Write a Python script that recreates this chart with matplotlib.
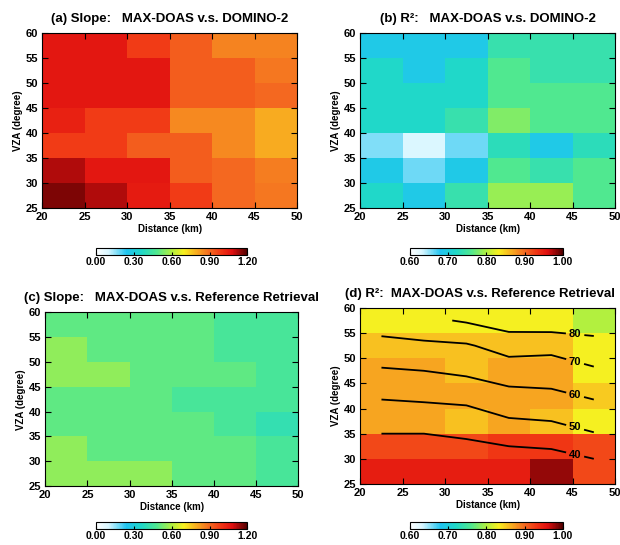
import matplotlib
matplotlib.use('Agg')
import matplotlib.pyplot as plt
import numpy as np
from matplotlib.colors import LinearSegmentedColormap

plt.rcParams['font.family'] = ['Liberation Sans', 'DejaVu Sans']
plt.rcParams['font.weight'] = 'bold'

# grid: distance bins (km) and VZA bins (degree)
dist_edges = [20, 25, 30, 35, 40, 45, 50]
vza_edges = [25, 30, 35, 40, 45, 50, 55, 60]

# rows go from VZA 25-30 (bottom) to 55-60 (top)
slope_domino = [
    [1.16, 1.12, 1.05, 0.98, 0.90, 0.88],
    [1.12, 1.06, 1.06, 0.92, 0.90, 0.87],
    [0.98, 0.98, 0.92, 0.92, 0.85, 0.80],
    [1.04, 0.98, 0.98, 0.85, 0.85, 0.80],
    [1.06, 1.06, 1.06, 0.92, 0.92, 0.90],
    [1.06, 1.06, 1.06, 0.92, 0.92, 0.88],
    [1.06, 1.06, 0.98, 0.92, 0.86, 0.86],
]
r2_domino = [
    [0.72, 0.69, 0.74, 0.79, 0.79, 0.76],
    [0.69, 0.66, 0.69, 0.76, 0.74, 0.76],
    [0.655, 0.63, 0.66, 0.73, 0.69, 0.73],
    [0.72, 0.72, 0.74, 0.78, 0.76, 0.76],
    [0.72, 0.72, 0.72, 0.76, 0.76, 0.76],
    [0.72, 0.69, 0.72, 0.76, 0.74, 0.74],
    [0.69, 0.69, 0.69, 0.74, 0.74, 0.74],
]
slope_ref = [
    [0.56, 0.56, 0.56, 0.50, 0.50, 0.46],
    [0.56, 0.50, 0.50, 0.50, 0.50, 0.46],
    [0.50, 0.50, 0.50, 0.50, 0.46, 0.41],
    [0.50, 0.50, 0.50, 0.46, 0.46, 0.46],
    [0.56, 0.56, 0.50, 0.50, 0.50, 0.46],
    [0.56, 0.50, 0.50, 0.50, 0.46, 0.46],
    [0.50, 0.50, 0.50, 0.50, 0.46, 0.46],
]
r2_ref = [
    [0.95, 0.95, 0.95, 0.95, 0.98, 0.92],
    [0.92, 0.92, 0.92, 0.93, 0.93, 0.92],
    [0.87, 0.87, 0.855, 0.87, 0.855, 0.83],
    [0.87, 0.87, 0.87, 0.87, 0.87, 0.85],
    [0.87, 0.87, 0.855, 0.87, 0.87, 0.83],
    [0.855, 0.855, 0.855, 0.855, 0.855, 0.83],
    [0.83, 0.83, 0.83, 0.83, 0.83, 0.80],
]
# number of collocations at bin centres, contoured on panel (d)
n_coll = [
    [30, 30, 30, 31, 32, 35],
    [36, 36, 38, 40, 41, 45],
    [44, 44, 45, 49, 50, 54],
    [51, 52, 53, 57, 58, 61],
    [59, 60, 62, 65, 65, 69],
    [67, 68, 69, 74, 73, 75],
    [75, 78, 81, 85, 86, 88],
]
n_levels = [40, 50, 60, 70, 80]

slope_ticks = [0.0, 0.3, 0.6, 0.9, 1.2]
r2_ticks = [0.6, 0.7, 0.8, 0.9, 1.0]

cmap = LinearSegmentedColormap.from_list('idl', [
    (0.00, '#ffffff'), (0.08, '#d8f6ff'), (0.20, '#20c4f0'), (0.30, '#20d8c8'),
    (0.40, '#50e890'), (0.50, '#b0f040'), (0.58, '#f8f020'), (0.66, '#f8b020'),
    (0.75, '#f46a20'), (0.83, '#f03414'), (0.90, '#e01010'), (1.00, '#500000')])

fig = plt.figure(figsize=(6.2, 5.45), dpi=100)

panels = [
    ('(a) Slope:   MAX-DOAS v.s. DOMINO-2', slope_domino, slope_ticks,
     [0.068, 0.618, 0.411, 0.321], [0.155, 0.532, 0.244, 0.013]),
    ('(b) R²:   MAX-DOAS v.s. DOMINO-2', r2_domino, r2_ticks,
     [0.581, 0.618, 0.411, 0.321], [0.661, 0.532, 0.247, 0.013]),
    ('(c) Slope:   MAX-DOAS v.s. Reference Retrieval', slope_ref, slope_ticks,
     [0.073, 0.108, 0.408, 0.319], [0.155, 0.029, 0.244, 0.013]),
    ('(d) R²:  MAX-DOAS v.s. Reference Retrieval', r2_ref, r2_ticks,
     [0.581, 0.112, 0.411, 0.323], [0.661, 0.029, 0.247, 0.013]),
]

for i, (title, z, ticks, pos, cpos) in enumerate(panels):
    ax = fig.add_axes(pos)
    pc = ax.pcolormesh(dist_edges, vza_edges, np.array(z), cmap=cmap,
                       vmin=ticks[0], vmax=ticks[-1])
    ax.set_xlim(20, 50)
    ax.set_ylim(25, 60)
    ax.set_xticks(np.arange(20, 51, 5))
    ax.set_yticks(np.arange(25, 61, 5))
    ax.tick_params(direction='in', top=True, right=True, length=4,
                   labelsize=8, pad=3)
    for lab in ax.get_xticklabels() + ax.get_yticklabels():
        lab.set_fontweight('bold')
    ax.set_xlabel('Distance (km)', fontsize=7, fontweight='bold', labelpad=1)
    ax.set_ylabel('VZA (degree)', fontsize=7, fontweight='bold', labelpad=2)
    if i == 3:
        ax.set_title(title, fontsize=9.5, fontweight='bold', pad=8, loc='right')
    else:
        ax.set_title(title, fontsize=9.5, fontweight='bold', pad=8)

    if i == 3:
        xc = 0.5 * (np.array(dist_edges[:-1]) + np.array(dist_edges[1:]))
        yc = 0.5 * (np.array(vza_edges[:-1]) + np.array(vza_edges[1:]))
        cs = ax.contour(xc, yc, np.array(n_coll), levels=n_levels,
                        colors='black', linewidths=1.3)
        # put each label near the right end of its line
        manual = []
        for seg in cs.allsegs:
            v = seg[0]
            order = np.argsort(v[:, 0])
            manual.append((45.3, np.interp(45.3, v[order, 0], v[order, 1])))
        lbls = ax.clabel(cs, fmt='%d', fontsize=8, inline=True, manual=manual,
                         inline_spacing=3)
        for t in lbls:
            t.set_rotation(0)
            t.set_fontweight('bold')

    cax = fig.add_axes(cpos)
    cb = fig.colorbar(pc, cax=cax, orientation='horizontal', ticks=ticks)
    cb.ax.set_xticklabels(['%.2f' % t for t in ticks])
    cb.ax.tick_params(direction='in', length=2, labelsize=7.5, pad=1.5)
    for lab in cb.ax.get_xticklabels():
        lab.set_fontweight('bold')
    cb.outline.set_linewidth(0.8)

fig.savefig('out.png', dpi=100)
